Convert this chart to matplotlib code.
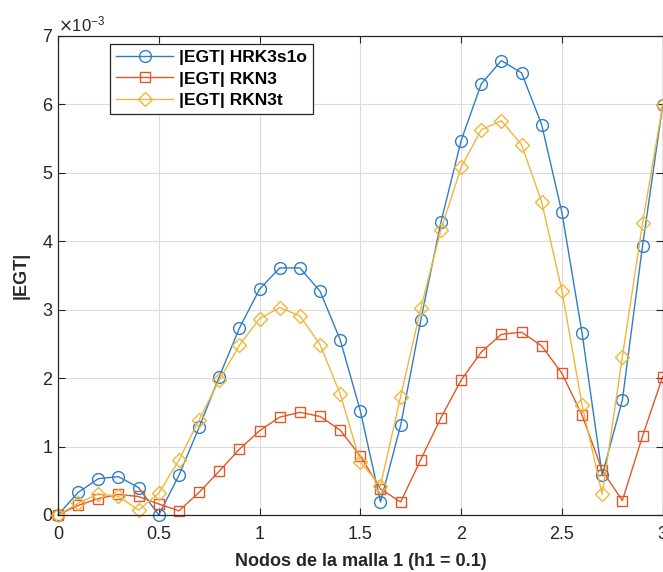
import numpy as np
import matplotlib
matplotlib.use('Agg')
import matplotlib.pyplot as plt
from matplotlib.ticker import ScalarFormatter

plt.rcParams['font.family'] = ['Liberation Sans', 'DejaVu Sans']

# Nodes of mesh 1 (h1 = 0.1)
nodos = np.round(np.arange(0, 3.01, 0.1), 1)

# |EGT| values, in units of 1e-3
egt_hrk3s1o = [0.00, 0.33, 0.53, 0.56, 0.40, 0.00, 0.58, 1.28, 2.02, 2.73,
               3.30, 3.61, 3.61, 3.27, 2.56, 1.52, 0.19, 1.31, 2.85, 4.28,
               5.47, 6.30, 6.64, 6.46, 5.70, 4.42, 2.66, 0.58, 1.68, 3.93,
               5.99]
egt_rkn3 = [0.00, 0.14, 0.24, 0.30, 0.27, 0.16, 0.06, 0.33, 0.64, 0.96,
            1.23, 1.43, 1.50, 1.44, 1.24, 0.86, 0.38, 0.19, 0.81, 1.42,
            1.97, 2.38, 2.64, 2.67, 2.47, 2.07, 1.46, 0.65, 0.21, 1.15,
            2.02]
egt_rkn3t = [0.00, 0.17, 0.31, 0.27, 0.07, 0.32, 0.80, 1.39, 1.97, 2.48,
             2.87, 3.03, 2.91, 2.49, 1.77, 0.77, 0.43, 1.73, 3.02, 4.17,
             5.08, 5.63, 5.76, 5.41, 4.57, 3.28, 1.61, 0.30, 2.31, 4.26,
             5.99]

etiquetas = ['|EGT| HRK3s1o', '|EGT| RKN3', '|EGT| RKN3t']
colores = ['#2f7ec4', '#e0582a', '#f0b73a']
marcadores = ['o', 's', 'D']

fig = plt.figure(figsize=(6.63, 5.72), dpi=100)
ax = fig.add_axes([0.0875, 0.0997, 0.912, 0.8375])

series = [egt_hrk3s1o, egt_rkn3, egt_rkn3t]
for vals, lab, col, mk in zip(series, etiquetas, colores, marcadores):
    ms = 8.5 if mk == 'o' else 7.5
    ax.plot(nodos, np.array(vals) * 1e-3, color=col, marker=mk, ms=ms,
            mfc='none', mec=col, lw=1.0, mew=1.0, label=lab, clip_on=False)

ax.set_xlim(0, 3)
ax.set_ylim(0, 7e-3)
ax.set_xticks([0, 0.5, 1, 1.5, 2, 2.5, 3])
ax.set_xticklabels(['0', '0.5', '1', '1.5', '2', '2.5', '3'])
ax.set_yticks(np.arange(0, 8) * 1e-3)

fmt = ScalarFormatter(useMathText=True)
fmt.set_powerlimits((-3, -3))
ax.yaxis.set_major_formatter(fmt)
ax.yaxis.get_offset_text().set_fontsize(12)
ax.yaxis.get_offset_text().set_color('#262626')

ax.grid(True, color='#dcdcdc', lw=0.8)
ax.set_axisbelow(True)
ax.tick_params(direction='in', length=5, labelsize=13, colors='#262626',
               top=True, right=True)
ax.tick_params(axis='x', pad=8)
for s in ax.spines.values():
    s.set_color('#262626')
    s.set_linewidth(0.9)

ax.set_xlabel('Nodos de la malla 1 (h1 = 0.1)', fontsize=13, fontweight='bold',
              color='#262626', labelpad=7)
ax.set_ylabel('|EGT|', fontsize=13, fontweight='bold', color='#262626',
              labelpad=9)

leg = ax.legend(loc='upper left', bbox_to_anchor=(0.086, 0.983), fancybox=False,
                edgecolor='#262626', framealpha=1, handlelength=3.3,
                borderpad=0.35, labelspacing=0.35, handletextpad=0.3,
                borderaxespad=0, prop={'weight': 'bold', 'size': 12.5})
leg.get_frame().set_linewidth(0.9)

fig.savefig('out.png', dpi=100)
